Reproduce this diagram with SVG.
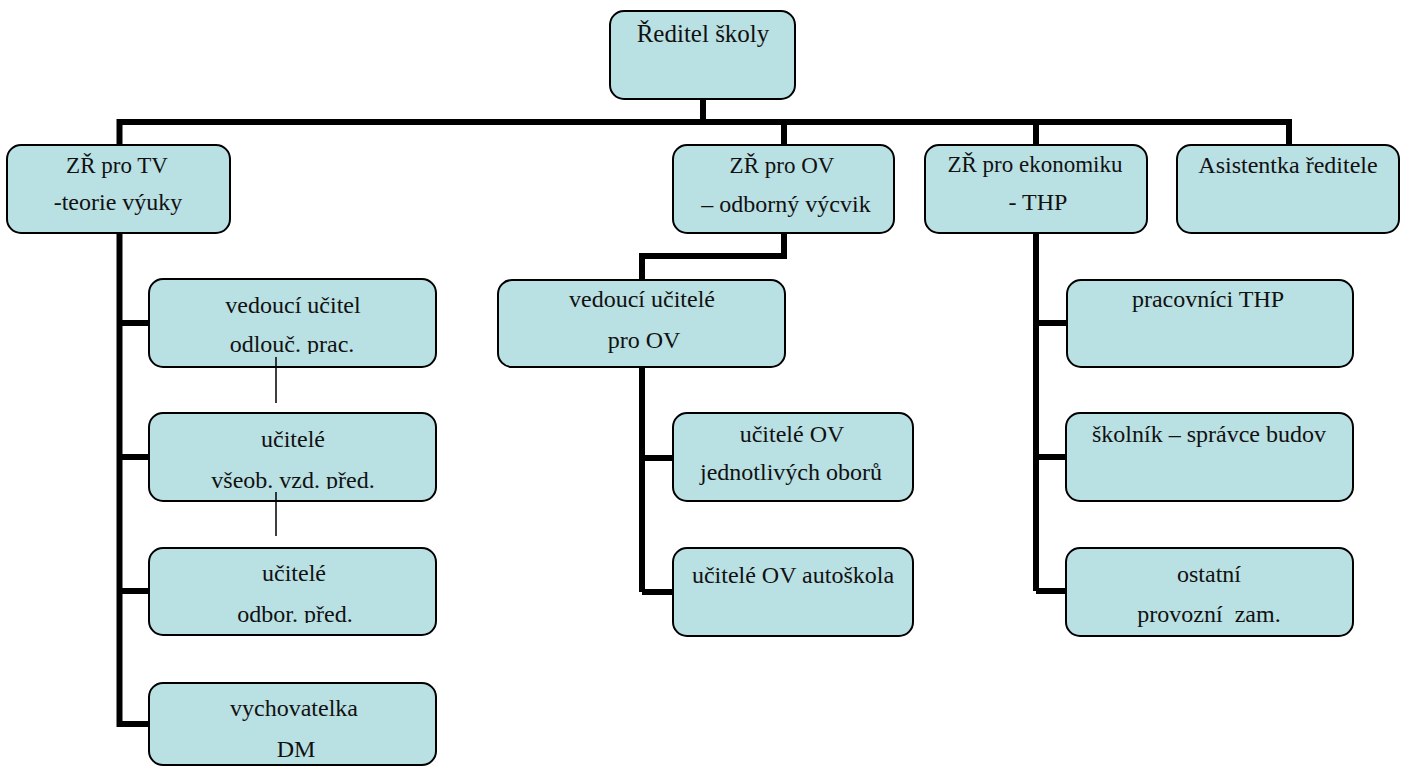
<svg xmlns="http://www.w3.org/2000/svg" width="1405" height="767" viewBox="0 0 1405 767">
<style>
.box{fill:#b9e0e3;stroke:#000;stroke-width:2}
text{font-family:'Liberation Serif','Times New Roman',serif;font-size:24px;fill:#111;text-anchor:middle;white-space:pre}
.zr{font-size:23px}
.c{fill:none;stroke:#000;stroke-width:6;stroke-linejoin:miter;stroke-linecap:butt}
.thin{fill:none;stroke:#000;stroke-width:1.5}
</style>
<defs>
<clipPath id="clipA"><rect x="149" y="279" width="287" height="75"/></clipPath>
<clipPath id="clipB"><rect x="149" y="413" width="287" height="76"/></clipPath>
<clipPath id="clipC"><rect x="149" y="548" width="287" height="75"/></clipPath>
</defs>
<rect width="1405" height="767" fill="#fff"/>
<g id="connectors">
<path class="c" d="M703 99 V122"/>
<path class="c" d="M119.5 145 V122 H1289 V145"/>
<path class="c" d="M784 122 V145"/>
<path class="c" d="M1036 122 V145"/>
<path class="c" d="M119.5 233 V727"/>
<path class="c" d="M119.5 323 H149 M119.5 457 H149 M119.5 591 H149 M119.5 724 H149"/>
<path class="c" d="M784 233 V256 H642 V280"/>
<path class="c" d="M642 367 V592 M642 458 H673 M642 592 H673"/>
<path class="c" d="M1036 233 V591 M1036 323 H1067 M1036 457 H1066 M1036 591 H1066"/>
</g>
<g id="n-reditel"><rect class="box" x="610" y="11" width="185" height="88" rx="14"/><text x="703" y="42" style="font-size:25px">Ředitel školy</text></g>
<g id="n-zr-tv"><rect class="box" x="7" y="145" width="223" height="88" rx="14"/><text class="zr" x="117" y="173">ZŘ pro TV</text><text x="118" y="210">-teorie výuky</text></g>
<g id="n-zr-ov"><rect class="box" x="673" y="145" width="221" height="88" rx="14"/><text class="zr" x="782" y="173">ZŘ pro OV</text><text x="786" y="212">– odborný výcvik</text></g>
<g id="n-zr-eko"><rect class="box" x="925" y="145" width="222" height="88" rx="14"/><text class="zr" x="1035" y="172">ZŘ pro ekonomiku</text><text x="1038" y="210">- THP</text></g>
<g id="n-asistentka"><rect class="box" x="1177" y="145" width="222" height="88" rx="14"/><text x="1288" y="173">Asistentka ředitele</text></g>
<g id="n-ved-ucitel"><rect class="box" x="149" y="279" width="287" height="88" rx="14"/><g clip-path="url(#clipA)"><text x="293" y="313">vedoucí učitel</text><text x="292" y="352">odlouč. prac.</text></g></g>
<g id="n-ucitele-vseob"><rect class="box" x="149" y="413" width="287" height="88" rx="14"/><g clip-path="url(#clipB)"><text x="293" y="447">učitelé</text><text x="293" y="488">všeob. vzd. před.</text></g></g>
<g id="n-ucitele-odbor"><rect class="box" x="149" y="548" width="287" height="87" rx="14"/><g clip-path="url(#clipC)"><text x="294" y="581">učitelé</text><text x="295" y="622">odbor. před.</text></g></g>
<g id="n-vychovatelka"><rect class="box" x="149" y="683" width="287" height="82" rx="14"/><text x="294" y="716">vychovatelka</text><text x="296" y="757">DM</text></g>
<g id="n-ved-ucitele-ov"><rect class="box" x="498" y="280" width="287" height="87" rx="14"/><text x="642" y="307">vedoucí učitelé</text><text x="644" y="348">pro OV</text></g>
<g id="n-ucitele-ov"><rect class="box" x="673" y="413" width="240" height="88" rx="14"/><text x="792" y="442">učitelé OV</text><text x="791" y="480">jednotlivých oborů</text></g>
<g id="n-autoskola"><rect class="box" x="673" y="548" width="240" height="88" rx="14"/><text x="793" y="583">učitelé OV autoškola</text></g>
<g id="n-thp"><rect class="box" x="1067" y="280" width="286" height="87" rx="14"/><text x="1208" y="307">pracovníci THP</text></g>
<g id="n-skolnik"><rect class="box" x="1066" y="413" width="287" height="88" rx="14"/><text x="1209" y="442">školník – správce budov</text></g>
<g id="n-ostatni"><rect class="box" x="1066" y="548" width="287" height="88" rx="14"/><text x="1209" y="582">ostatní</text><text x="1209" y="622">provozní  zam.</text></g>
<g id="thin-connectors">
<path class="thin" d="M276 357 V403 M276 492 V536"/>
</g>
</svg>
